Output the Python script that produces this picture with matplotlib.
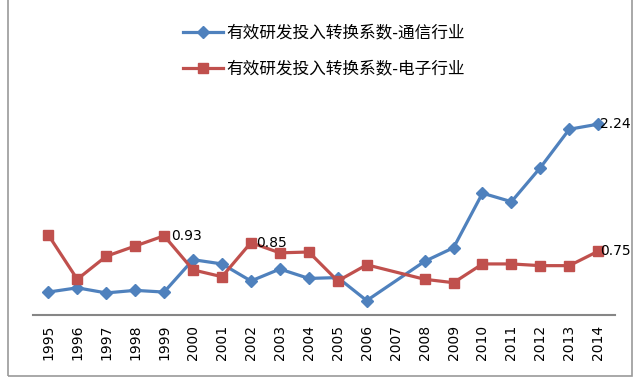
import numpy as np
import matplotlib.pyplot as plt
from matplotlib.patches import Rectangle

plt.rcParams['font.family'] = ['Noto Sans CJK SC', 'DejaVu Sans']

years = ['1995', '1996', '1997', '1998', '1999', '2000', '2001', '2002', '2003', '2004',
         '2005', '2006', '2007', '2008', '2009', '2010', '2011', '2012', '2013', '2014']
# 2007 has no point in either series
tongxin = [0.27, 0.32, 0.26, 0.29, 0.27, 0.65, 0.60, 0.40, 0.54, 0.43,
           0.44, 0.17, np.nan, 0.63, 0.79, 1.43, 1.33, 1.73, 2.18, 2.24]
dianzi = [0.94, 0.42, 0.69, 0.81, 0.93, 0.53, 0.45, 0.85, 0.73, 0.74,
          0.40, 0.59, np.nan, 0.42, 0.38, 0.60, 0.60, 0.58, 0.58, 0.75]
names = ['有效研发投入转换系数-通信行业', '有效研发投入转换系数-电子行业']
labelled = [(0, 19, '2.24', 1), (1, 4, '0.93', 5), (1, 7, '0.85', 4), (1, 19, '0.75', 1)]

blue = '#4F81BD'
red = '#C0504D'

fig = plt.figure(figsize=(6.4, 3.81), dpi=100)
ax = fig.add_axes([0.052, 0.173, 0.909, 0.669])

x = np.arange(len(years))
series = [np.array(tongxin), np.array(dianzi)]
lines = []
for vals, c, m, ms, name in zip(series, [blue, red], ['D', 's'], [6, 7], names):
    ok = ~np.isnan(vals)
    ln, = ax.plot(x[ok], vals[ok], color=c, lw=2.3, marker=m, ms=ms, label=name)
    lines.append(ln)

for si, i, txt, dx in labelled:
    ax.annotate(txt, (x[i], series[si][i]), xytext=(dx, 0), textcoords='offset points',
                va='center', ha='left', fontsize=10, family=['DejaVu Sans'])

ax.set_xlim(-0.52, 19.58)
ax.set_ylim(0, 2.99)
ax.set_xticks(x)
ax.set_xticklabels(years, rotation=90, fontsize=10, family=['DejaVu Sans'])
ax.tick_params(axis='x', length=0, pad=7)
ax.set_yticks([])
for s in ['top', 'right', 'left']:
    ax.spines[s].set_visible(False)
ax.spines['bottom'].set_color('#868686')
ax.spines['bottom'].set_linewidth(1.5)

fig.legend(handles=lines, loc='center', bbox_to_anchor=(0.506, 0.866), frameon=False,
           fontsize=12, handlelength=2.4, labelspacing=1.15, handletextpad=0.2)

fig.patches.append(Rectangle((0.013, 0.013), 0.974, 0.99, transform=fig.transFigure,
                             fill=False, edgecolor='#9A9A9A', lw=1.2))

fig.savefig('out.png', dpi=100)
